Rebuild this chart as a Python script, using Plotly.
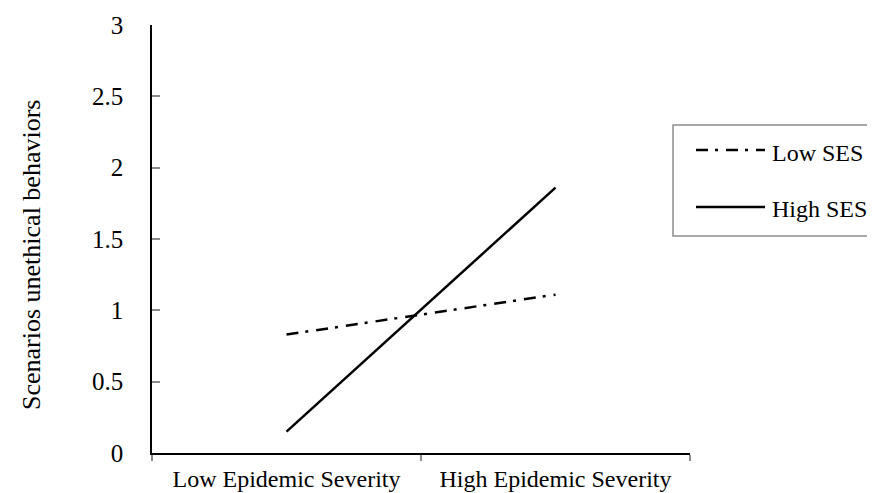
import plotly.graph_objects as go

categories = ["Low Epidemic Severity", "High Epidemic Severity"]
low_ses = [0.83, 1.11]
high_ses = [0.15, 1.86]
series_names = ["Low SES", "High SES"]
y_ticks = [0, 0.5, 1, 1.5, 2, 2.5, 3]
y_tick_labels = ["0", "0.5", "1", "1.5", "2", "2.5", "3"]
y_title = "Scenarios unethical behaviors"

OFF = 8  # default page margin of the html body
W, H = 875 - OFF, 493 - OFF
# plot area in screenshot pixels
L, R, T, B = 152, 690, 25, 453
FONT = "Liberation Serif, Times New Roman, serif"
FS = 24

def px(x):
    return (x - L) / (R - L)

def py(y):
    return (B - y) / (B - T)

dash_low = "12px,7px,3px,8px"

fig = go.Figure()
fig.add_trace(go.Scatter(x=categories, y=low_ses, mode="lines", name=series_names[0],
                         line=dict(color="black", width=2.5, dash=dash_low), showlegend=False))
fig.add_trace(go.Scatter(x=categories, y=high_ses, mode="lines", name=series_names[1],
                         line=dict(color="black", width=2.5), showlegend=False))

# legend box
shapes = [dict(type="rect", xref="paper", yref="paper", x0=px(673), x1=px(900), y0=py(236), y1=py(125),
               line=dict(color="#8c8c8c", width=1.5), fillcolor="rgba(0,0,0,0)")]
annotations = []
leg_rows = [(150, 153, dash_low), (207, 209, "solid")]
for name, (ly, ty, dsh) in zip(series_names, leg_rows):
    shapes.append(dict(type="line", xref="paper", yref="paper", x0=px(696), x1=px(765), y0=py(ly), y1=py(ly),
                       line=dict(color="black", width=2.5, dash=dsh)))
    annotations.append(dict(xref="paper", yref="paper", x=px(770), y=py(ty), text=name, showarrow=False,
                            xanchor="left", yanchor="middle", font=dict(family=FONT, size=FS, color="black")))
annotations.append(dict(xref="paper", yref="paper", x=px(31), y=py(255), text=y_title, textangle=-90,
                        showarrow=False, xanchor="center", yanchor="middle",
                        font=dict(family=FONT, size=26, color="black")))

fig.update_layout(
    width=W, height=H,
    margin=dict(l=L - OFF, r=W - (R - OFF), t=T - OFF, b=H - (B - OFF), autoexpand=False),
    paper_bgcolor="white", plot_bgcolor="white",
    font=dict(family=FONT, size=FS, color="black"),
    shapes=shapes, annotations=annotations,
    xaxis=dict(type="category", range=[-0.5, 1.5], showline=True, linecolor="black", linewidth=1.5,
               ticks="outside", tickson="boundaries", ticklen=6, tickcolor="#8c8c8c", tickwidth=1.5,
               showgrid=False, zeroline=False, ticklabelstandoff=3, tickfont=dict(family=FONT, size=FS)),
    yaxis=dict(range=[0, 3], tickvals=y_ticks, ticktext=y_tick_labels, showline=True, linecolor="black",
               linewidth=1.5, ticks="inside", ticklen=8, tickcolor="#8c8c8c", tickwidth=1.5,
               showgrid=False, zeroline=False, ticklabelstandoff=22, tickfont=dict(family=FONT, size=25)),
)

fig.write_html("out.html")
